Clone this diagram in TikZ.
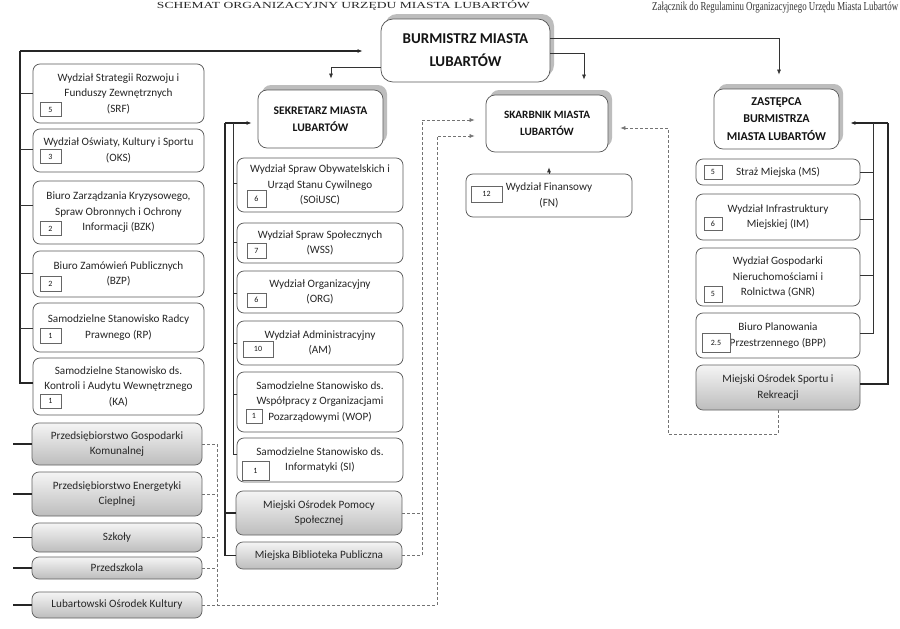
\documentclass[tikz,border=0pt]{standalone}
\usepackage{fontspec}
\setmainfont{Carlito}
\newfontfamily\serifttl{Liberation Serif}
\usetikzlibrary{arrows.meta,shadows}
\tikzset{
  ubox/.style={draw=black!65, line width=0.75pt, rounded corners=7pt, fill=white, align=center,
    inner sep=1pt, font=\fontsize{11.2}{15.5}\selectfont, text=black!85},
  gbox/.style={ubox, top color=gray!8, bottom color=gray!52, draw=black!62},
  headbox/.style={ubox, text=black!92, rounded corners=9pt,
    drop shadow={shadow xshift=4pt, shadow yshift=5pt, fill=black!30, opacity=0.85}},
  nbox/.style={draw=black!60, line width=0.55pt, fill=white, font=\fontsize{8}{9}\selectfont,
    inner sep=0pt, text=black!90},
  link/.style={draw=black!80, line width=0.7pt},
  trunk/.style={draw=black!85, line width=1.1pt},
  dlink/.style={draw=black!55, line width=0.6pt, dash pattern=on 3pt off 2pt},
  arr/.style={-{Latex[length=5pt,width=4pt]}},
}
\begin{document}
\begin{tikzpicture}[x=1pt,y=-1pt]
\useasboundingbox (0,0) rectangle (900,629);
\clip (0,0) rectangle (900,629);
\fill[white] (0,0) rectangle (900,629);

% titles
\node[anchor=base, inner sep=0pt, font=\serifttl, text=black!85] (title) at (343.5,9)
  {\resizebox{373pt}{8pt}{SCHEMAT ORGANIZACYJNY URZĘDU MIASTA LUBARTÓW}};
\node[anchor=base west, inner sep=0pt, font=\serifttl, text=black!80] (note) at (652,11)
  {\resizebox{246pt}{8.5pt}{Załącznik do Regulaminu Organizacyjnego Urzędu Miasta Lubartów}};

% heads
\node[headbox, rounded corners=12pt, minimum width=169pt, minimum height=63pt,
  font=\bfseries\fontsize{15}{23}\selectfont] (bur) at (465.5,50.5) {BURMISTRZ MIASTA\\LUBARTÓW};
\node[headbox, minimum width=125pt, minimum height=58pt,
  font=\bfseries\fontsize{11.6}{16.5}\selectfont] (sek) at (320.5,119) {SEKRETARZ MIASTA\\LUBARTÓW};
\node[headbox, minimum width=122pt, minimum height=57pt,
  font=\bfseries\fontsize{11.2}{17}\selectfont] (ska) at (547,123.5) {SKARBNIK MIASTA\\LUBARTÓW};
\node[headbox, minimum width=125pt, minimum height=60pt,
  font=\bfseries\fontsize{12}{17.5}\selectfont] (zas) at (776.5,119) {ZASTĘPCA\\BURMISTRZA\\MIASTA LUBARTÓW};

% left column
\node[ubox, minimum width=171pt, minimum height=59pt] (srf) at (118.5,93.5) {Wydział Strategii Rozwoju i\\Funduszy Zewnętrznych\\(SRF)};
\node[ubox, minimum width=171pt, minimum height=43pt] (oks) at (118.5,150.5) {Wydział Oświaty, Kultury i Sportu\\(OKS)};
\node[ubox, minimum width=171pt, minimum height=63pt] (bzk) at (118.5,212.5) {Biuro Zarządzania Kryzysowego,\\Spraw Obronnych i Ochrony\\Informacji (BZK)};
\node[ubox, minimum width=171pt, minimum height=46pt] (bzp) at (118.5,274) {Biuro Zamówień Publicznych\\(BZP)};
\node[ubox, minimum width=171pt, minimum height=49pt] (rp) at (118.5,327.5) {Samodzielne Stanowisko Radcy\\Prawnego (RP)};
\node[ubox, minimum width=171pt, minimum height=57pt] (ka) at (118.5,386.5) {Samodzielne Stanowisko ds.\\Kontroli i Audytu Wewnętrznego\\(KA)};
\node[nbox, minimum width=21pt, minimum height=14pt] (srfn) at (50.5,109.5) {5};
\node[nbox, minimum width=21pt, minimum height=14pt] (oksn) at (50.5,156.5) {3};
\node[nbox, minimum width=21pt, minimum height=14pt] (bzkn) at (50.5,228.5) {2};
\node[nbox, minimum width=21pt, minimum height=15pt] (bzpn) at (50.5,283.5) {2};
\node[nbox, minimum width=21pt, minimum height=15pt] (rpn) at (50.5,335.5) {1};
\node[nbox, minimum width=21pt, minimum height=14pt] (kan) at (50.5,401) {1};

\node[gbox, minimum width=170pt, minimum height=42pt] (pgk) at (117,444) {Przedsiębiorstwo Gospodarki\\Komunalnej};
\node[gbox, minimum width=170pt, minimum height=44pt] (pec) at (117,494) {Przedsiębiorstwo Energetyki\\Cieplnej};
\node[gbox, minimum width=170pt, minimum height=29pt] (szk) at (117,537.5) {Szkoły};
\node[gbox, minimum width=170pt, minimum height=22pt] (prz) at (117,568) {Przedszkola};
\node[gbox, minimum width=170pt, minimum height=26pt] (lok) at (117,605) {Lubartowski Ośrodek Kultury};

% secretary column
\node[ubox, minimum width=166pt, minimum height=54pt] (soi) at (320,185) {Wydział Spraw Obywatelskich i\\Urząd Stanu Cywilnego\\(SOiUSC)};
\node[ubox, minimum width=166pt, minimum height=40pt] (wss) at (320,243) {Wydział Spraw Społecznych\\(WSS)};
\node[ubox, minimum width=166pt, minimum height=42pt] (org) at (320,292) {Wydział Organizacyjny\\(ORG)};
\node[ubox, minimum width=166pt, minimum height=44pt] (am) at (320,343) {Wydział Administracyjny\\(AM)};
\node[ubox, minimum width=166pt, minimum height=60pt] (wop) at (320,402) {Samodzielne Stanowisko ds.\\Współpracy z Organizacjami\\Pozarządowymi (WOP)};
\node[ubox, minimum width=166pt, minimum height=44pt] (si) at (320,460) {Samodzielne Stanowisko ds.\\Informatyki (SI)};
\node[gbox, minimum width=166pt, minimum height=44pt] (mops) at (319,513) {Miejski Ośrodek Pomocy\\Społecznej};
\node[gbox, minimum width=166pt, minimum height=27pt] (mbp) at (319,555.5) {Miejska Biblioteka Publiczna};
\node[nbox, minimum width=19pt, minimum height=17pt] (soin) at (256.5,198.5) {6};
\node[nbox, minimum width=19pt, minimum height=15pt] (wssn) at (256.5,250.5) {7};
\node[nbox, minimum width=19pt, minimum height=14pt] (orgn) at (256.5,300) {6};
\node[nbox, minimum width=30pt, minimum height=16pt] (amn) at (258,349) {10};
\node[nbox, minimum width=16pt, minimum height=14pt] (wopn) at (254,416) {1};
\node[nbox, minimum width=27pt, minimum height=19pt] (sin) at (255.5,470.5) {1};

% treasurer
\node[ubox, minimum width=166pt, minimum height=43pt] (fn) at (549,195.5) {Wydział Finansowy\\(FN)};
\node[nbox, minimum width=31pt, minimum height=16pt] (fnn) at (486.5,194) {12};

% deputy column
\node[ubox, minimum width=164pt, minimum height=26pt] (ms) at (778,172) {Straż Miejska (MS)};
\node[ubox, minimum width=164pt, minimum height=46pt] (im) at (778,217) {Wydział Infrastruktury\\Miejskiej (IM)};
\node[ubox, minimum width=164pt, minimum height=58pt] (gnr) at (778,277) {Wydział Gospodarki\\Nieruchomościami i\\Rolnictwa (GNR)};
\node[ubox, minimum width=164pt, minimum height=45pt] (bpp) at (778,335.5) {Biuro Planowania\\Przestrzennego (BPP)};
\node[gbox, minimum width=164pt, minimum height=45pt] (mosir) at (778,387.5) {Miejski Ośrodek Sportu i\\Rekreacji};
\node[nbox, minimum width=18pt, minimum height=14pt] (msn) at (713,172) {5};
\node[nbox, minimum width=18pt, minimum height=13pt] (imn) at (713,223.5) {6};
\node[nbox, minimum width=18pt, minimum height=16pt] (gnrn) at (713,294) {5};
\node[nbox, minimum width=28pt, minimum height=19pt] (bppn) at (716,342.5) {2.5};

% coordinates for trunks
\coordinate (L0) at (20,51);
\coordinate (S0) at (225,123);
\coordinate (S1) at (233,123);
\coordinate (R0) at (888,123);
\coordinate (R1) at (873,123);
\coordinate (D0) at (217,444);
\coordinate (D1) at (437,136);
\coordinate (D2) at (422,120);
\coordinate (D3) at (668,128);
\coordinate (D4) at (776,434);

% burmistrz links
\draw[trunk, arr, shorten >=18pt] (L0) -- (L0 -| bur.west);
\draw[link, arr, shorten >=11pt] ([yshift=-16.5pt]bur.west) -| ([xshift=10.5pt]sek.north);
\draw[link, arr, shorten >=15pt] ([yshift=-2.5pt]bur.east) -| ([xshift=37pt]ska.north);
\draw[link, arr, shorten >=14pt] ([yshift=12.5pt]bur.east) -| ([xshift=2.5pt]zas.north);
\draw[link, arr, shorten >=15pt] (fn.north) -- (fn.north |- ska.south);

% left trunk
\draw[trunk] (L0) |- ([yshift=3.5pt]ka.west);
\draw[link] ([yshift=0.5pt]srf.west) -- ([yshift=0.5pt]srf.west -| L0);
\draw[link] ([yshift=1.5pt]oks.west) -- ([yshift=1.5pt]oks.west -| L0);
\draw[link] ([yshift=7.5pt]bzk.west) -- ([yshift=7.5pt]bzk.west -| L0);
\draw[link] ([yshift=1pt]bzp.west) -- ([yshift=1pt]bzp.west -| L0);
\draw[link] ([yshift=-0.5pt]rp.west) -- ([yshift=-0.5pt]rp.west -| L0);

% left gray stubs
\foreach \n in {pgk,pec,szk,prz,lok} {\draw[trunk] (\n.west) -- ++(-19,0);}

% secretary trunks
\draw[trunk, arr, shorten >=6pt] (S0) -- (sek.west |- S0);
\draw[trunk] (S0) |- (mbp.west);
\draw[trunk] (mops.west) -- (mops.west -| S0);
\draw[link] (S1) |- ([yshift=6pt]si.west);
\draw[link] ([yshift=2pt]soi.west) -- ([yshift=2pt]soi.west -| S1);
\draw[link] ([yshift=1pt]wss.west) -- ([yshift=1pt]wss.west -| S1);
\draw[link] ([yshift=-1pt]org.west) -- ([yshift=-1pt]org.west -| S1);
\draw[link] (am.west) -- (am.west -| S1);
\draw[link] ([yshift=8pt]wop.west) -- ([yshift=8pt]wop.west -| S1);

% deputy trunks
\draw[trunk, arr, shorten >=11pt] (R0) -- (zas.east |- R0);
\draw[trunk] (R0) |- ([yshift=3.5pt]mosir.east);
\draw[link] (R1) |- ([yshift=2.5pt]bpp.east);
\draw[link] (ms.east) -- (ms.east -| R1);
\draw[link] ([yshift=-2pt]im.east) -- ([yshift=-2pt]im.east -| R1);
\draw[link] ([yshift=2pt]gnr.east) -- ([yshift=2pt]gnr.east -| R1);

% dashed links to treasurer
\foreach \n in {pgk,pec,szk,prz} {\draw[dlink] (\n.east) -- (\n.east -| D0);}
\draw[dlink] (D0) -- (D0 |- lok.east);
\draw[dlink, arr, shorten >=11pt] (lok.east) -| (D1) -- (D1 -| ska.west);
\draw[dlink] (mops.east) -- (mops.east -| D2);
\draw[dlink, arr, shorten >=11pt] (mbp.east) -| (D2) -- (D2 -| ska.west);
\draw[dlink, arr, shorten >=12pt] (mosir.south) -- (mosir.south |- D4) -| (D3) -- (D3 -| ska.east);
\end{tikzpicture}
\end{document}
